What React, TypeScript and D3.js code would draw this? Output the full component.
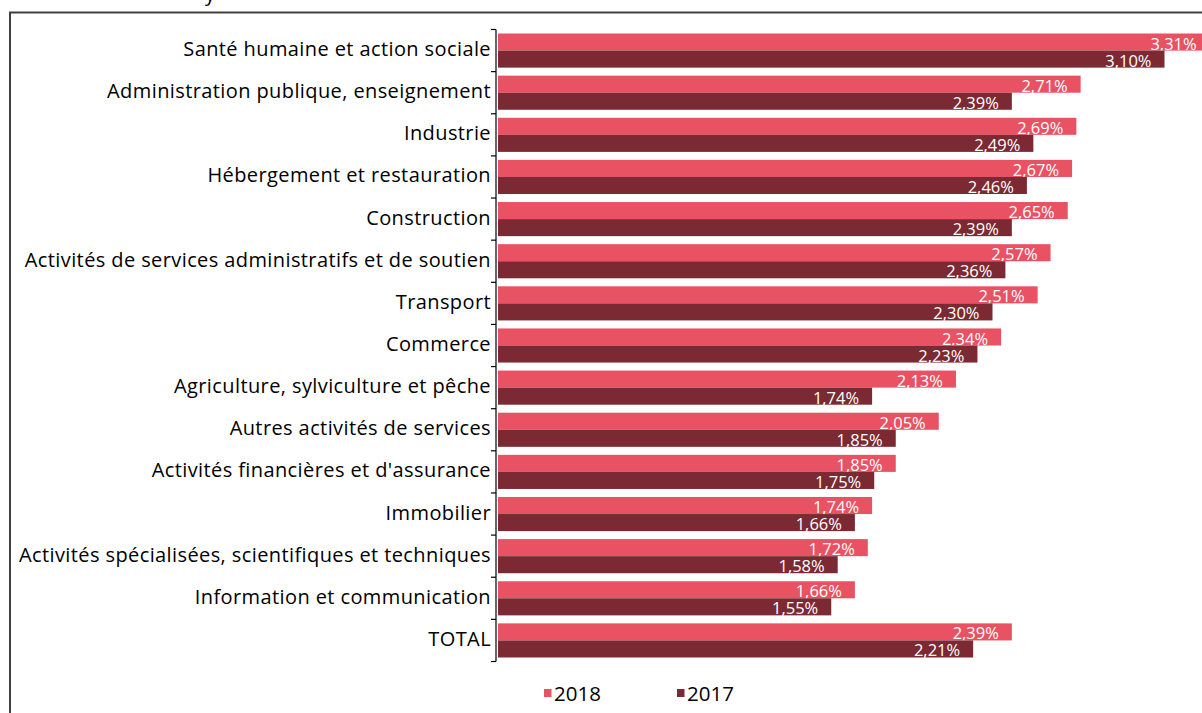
import React from "react";
import * as d3 from "d3";

const categories = [
  "Santé humaine et action sociale",
  "Administration publique, enseignement",
  "Industrie",
  "Hébergement et restauration",
  "Construction",
  "Activités de services administratifs et de soutien",
  "Transport",
  "Commerce",
  "Agriculture, sylviculture et pêche",
  "Autres activités de services",
  "Activités financières et d'assurance",
  "Immobilier",
  "Activités spécialisées, scientifiques et techniques",
  "Information et communication",
  "TOTAL",
];
const values2018 = [3.31, 2.71, 2.69, 2.67, 2.65, 2.57, 2.51, 2.34, 2.13, 2.05, 1.85, 1.74, 1.72, 1.66, 2.39];
const values2017 = [3.1, 2.39, 2.49, 2.46, 2.39, 2.36, 2.3, 2.23, 1.74, 1.85, 1.75, 1.66, 1.58, 1.55, 2.21];
const seriesNames = ["2018", "2017"];
const seriesColors = ["#E85262", "#7B2A33"];

const W = 1202;
const H = 713;
const FONT = "'Open Sans', 'DejaVu Sans', sans-serif";

export default function App() {
  const x0 = 498;
  const x = d3.scaleLinear().domain([0, 3.5]).range([x0, x0 + 3.5 * 215]);
  const y = d3.scaleBand<string>().domain(categories).range([29.5, 661.5]).paddingInner(0.19).paddingOuter(0.095);
  const sub = d3.scaleBand<string>().domain(seriesNames).range([0, y.bandwidth()]);
  const step = y.step();
  const top = 29.5;
  const fmt = (v: number) => v.toFixed(2).replace(".", ",") + "%";
  const series = [values2018, values2017];

  return (
    <svg width={W} height={H} style={{ position: "absolute", left: 0, top: 0, background: "#fff" }} fontFamily={FONT}>
      <text x={205} y={1} fontSize={20} fill="#000">y</text>
      <rect x={10} y={12.5} width={W + 20} height={H + 20} fill="none" stroke="#404040" strokeWidth={2} />
      {series.map((vals, si) =>
        categories.map((c, i) => {
          const yy = (y(c) as number) + (sub(seriesNames[si]) as number);
          const h = sub.bandwidth();
          return (
            <g key={si + "-" + i}>
              <rect x={x(0)} y={yy} width={x(vals[i]) - x(0)} height={h} fill={seriesColors[si]} />
              <text x={x(vals[i]) - 13} y={yy + h - 1} fontSize={16.5} fill="#fff" textAnchor="end">
                {fmt(vals[i])}
              </text>
            </g>
          );
        })
      )}
      <line x1={496} x2={496} y1={top} y2={top + step * categories.length} stroke="#000" strokeWidth={1.2} />
      {d3.range(categories.length + 1).map((k) => (
        <line key={k} x1={491} x2={496} y1={top + k * step} y2={top + k * step} stroke="#000" strokeWidth={1.2} />
      ))}
      {categories.map((c) => (
        <text key={c} x={491} y={(y(c) as number) + y.bandwidth() / 2 - 1.5} dy="0.35em" fontSize={20} letterSpacing={0.4} textAnchor="end" fill="#000">
          {c}
        </text>
      ))}
      {seriesNames.map((s, si) => {
        const lx = si === 0 ? 544 : 677;
        return (
          <g key={s}>
            <rect x={lx} y={689} width={7.5} height={8} fill={seriesColors[si]} />
            <text x={lx + 10} y={700.5} fontSize={20.5} fill="#000">{s}</text>
          </g>
        );
      })}
    </svg>
  );
}
